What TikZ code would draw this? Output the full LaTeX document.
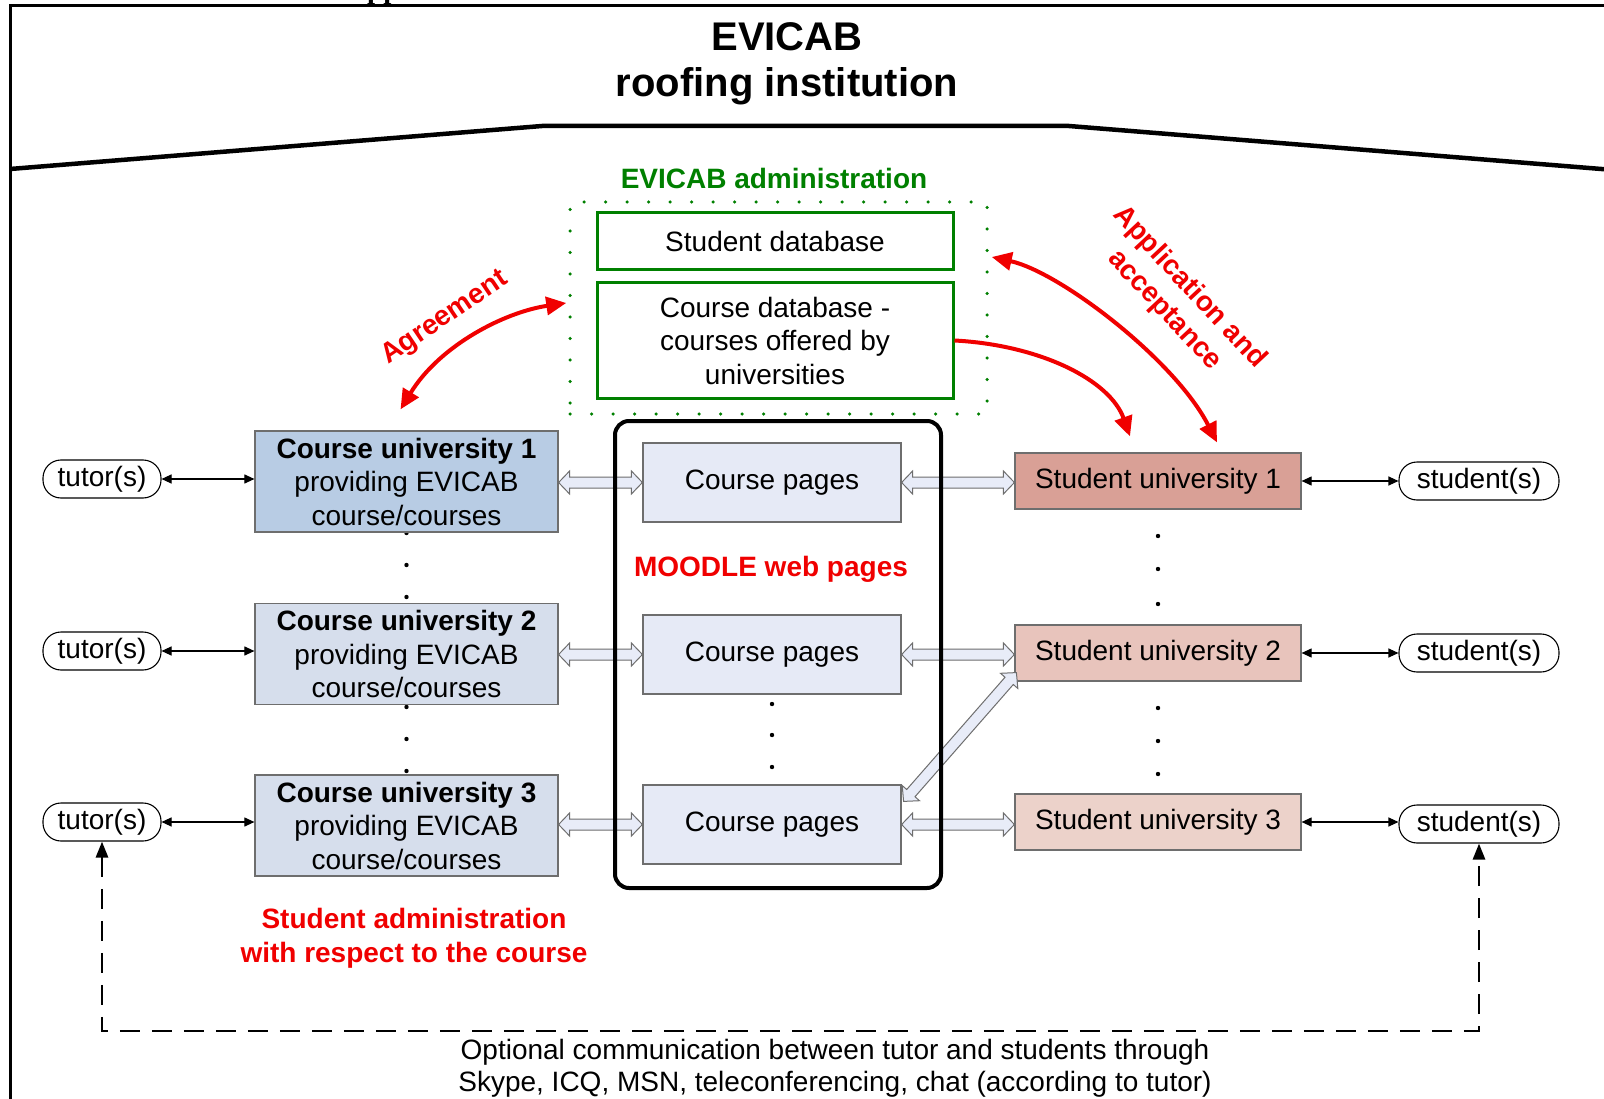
\documentclass[tikz,border=0pt]{standalone}
\usepackage{fontspec}
\setmainfont{Liberation Sans}
\newfontfamily\capserif{Liberation Serif}
\usetikzlibrary{arrows.meta,calc}

\definecolor{adgreen}{RGB}{0,128,0}
\definecolor{hotred}{RGB}{240,0,0}
\definecolor{cuA}{RGB}{184,204,228}
\definecolor{cuB}{RGB}{214,222,236}
\definecolor{cpfill}{RGB}{230,234,246}
\definecolor{suA}{RGB}{217,160,150}
\definecolor{suB}{RGB}{232,196,188}
\definecolor{suC}{RGB}{236,210,202}
\definecolor{boxline}{RGB}{110,110,110}
\definecolor{dblfill}{RGB}{232,236,248}

\tikzset{
  txt/.style={font=\fontsize{28}{33.5}\selectfont},
  titletxt/.style={font=\fontsize{40}{48}\selectfont\bfseries, inner sep=0pt},
  redlbl/.style={text=hotred, font=\fontsize{28}{34}\selectfont\bfseries, align=center, inner sep=0pt},
  cubox/.style={draw=boxline, line width=1.2pt, minimum width=303pt, minimum height=101pt,
                align=center, inner sep=0pt, txt},
  cpbox/.style={draw=boxline, fill=cpfill, line width=1.2pt, minimum width=258pt,
                minimum height=79pt, inner sep=0pt, txt},
  subox/.style={draw=boxline, line width=1.2pt, minimum width=286pt, minimum height=56pt,
                inner sep=0pt, txt},
  dbbox/.style={draw=adgreen, line width=3pt, minimum width=356pt, align=center,
                inner sep=0pt, txt},
  pill/.style={draw, line width=1.1pt, rounded corners=18pt, minimum height=38pt,
               fill=white, inner sep=0pt, txt},
  linkarrow/.style={line width=1.1pt, {Triangle[length=10pt,width=9pt]}-{Triangle[length=10pt,width=9pt]}},
  redboth/.style={draw=hotred, line width=4pt,
                  {Triangle[length=20pt,width=18pt]}-{Triangle[length=20pt,width=18pt]}},
  redone/.style={draw=hotred, line width=4pt, -{Triangle[length=20pt,width=18pt]}},
  dashlink/.style={line width=2.8pt, dash pattern=on 20pt off 12pt,
                   {Triangle[length=16pt,width=12pt]}-{Triangle[length=16pt,width=12pt]}},
  hollowarrow/.style={draw=boxline, fill=dblfill, line width=1pt, line join=miter},
}

% wide hollow two-headed arrow from #1 to #2
\newcommand\hollowlink[2]{%
  \path let \p1=(#1), \p2=(#2) in
    \pgfextra{%
      \pgfmathsetmacro\hlLtmp{veclen(\x2-\x1,\y2-\y1)}%
      \pgfmathsetmacro\hlAtmp{atan2(\y2-\y1,\x2-\x1)}%
      \pgfmathsetmacro\hlXtmp{\x1}%
      \pgfmathsetmacro\hlYtmp{\y1}%
      \global\let\hlL\hlLtmp \global\let\hlA\hlAtmp
      \global\let\hlX\hlXtmp \global\let\hlY\hlYtmp};
  \begin{scope}[shift={(\hlX pt,\hlY pt)}, rotate=\hlA]
    \draw[hollowarrow] (0pt,0pt) -- (11pt,11.5pt) -- (11pt,5.5pt)
      -- (\hlL pt-11pt,5.5pt) -- (\hlL pt-11pt,11.5pt) -- (\hlL pt,0pt)
      -- (\hlL pt-11pt,-11.5pt) -- (\hlL pt-11pt,-5.5pt) -- (11pt,-5.5pt)
      -- (11pt,-11.5pt) -- cycle;
  \end{scope}}

\begin{document}
\begin{tikzpicture}[x=1pt,y=-1pt]
\path[use as bounding box, fill=white] (0,0) rectangle (1604,1099);
\clip (0,0) rectangle (1604,1099);

% caption remnant above the frame
\node[anchor=base west, inner sep=0pt, font=\capserif\bfseries\fontsize{29}{29}\selectfont]
  (capfrag) at (367,-1) {pp};

% outer frame and roof
\draw[line width=3pt] (10,1110) -- (10,6) -- (1620,6);
\draw[line width=4.5pt] (10,169) -- (542,126) -- (1069,126) -- (1620,170.5);

% title
\node[titletxt, anchor=base] (title1) at (787,51) {EVICAB};
\node[titletxt, anchor=base] (title2) at (787,97) {roofing institution};

% EVICAB administration
\node[text=adgreen, font=\fontsize{28}{33.5}\selectfont\bfseries, inner sep=0pt]
  (adminlbl) at (774,178) {EVICAB administration};
\node[draw=adgreen, line width=3.5pt, dash pattern=on 0pt off 21.5pt, line cap=round,
      minimum width=417pt, minimum height=212pt] (admin) at (778.5,308) {};
\node[dbbox, minimum height=57pt] (sdb) at (775,241.5) {Student database};
\node[dbbox, minimum height=115pt] (cdb) at (775,340.5)
  {Course database -\\courses offered by\\universities};

% continuation dots
\foreach \yy in {533,565,597,707,739,771}
  \fill (406.5,\yy) circle (2.2pt);
\foreach \yy in {704,735,767}
  \fill (772,\yy) circle (2.2pt);
\foreach \yy in {536,569,604,708,741,774}
  \fill (1158,\yy) circle (2.2pt);

% course universities
\node[cubox, fill=cuA] (cu1) at (406.5,481.5)
  {\textbf{Course university 1}\\providing EVICAB\\course/courses};
\node[cubox, fill=cuB] (cu2) at (406.5,654)
  {\textbf{Course university 2}\\providing EVICAB\\course/courses};
\node[cubox, fill=cuB] (cu3) at (406.5,825.5)
  {\textbf{Course university 3}\\providing EVICAB\\course/courses};

% course pages
\node[cpbox] (cp1) at (772,482.5) {Course pages};
\node[cpbox] (cp2) at (772,654.5) {Course pages};
\node[cpbox] (cp3) at (772,824.5) {Course pages};
\node[redlbl] (moodlelbl) at (771,569) {MOODLE web pages};

% student universities
\node[subox, fill=suA] (su1) at (1158,481) {Student university 1};
\node[subox, fill=suB] (su2) at (1158,653) {Student university 2};
\node[subox, fill=suC] (su3) at (1158,822) {Student university 3};

% tutors and students
\node[pill, minimum width=118pt] (t1) at (102,479) {tutor(s)};
\node[pill, minimum width=118pt] (t2) at (102,651) {tutor(s)};
\node[pill, minimum width=118pt] (t3) at (102,822) {tutor(s)};
\node[pill, minimum width=160pt] (s1) at (1479,481) {student(s)};
\node[pill, minimum width=160pt] (s2) at (1479,653) {student(s)};
\node[pill, minimum width=160pt] (s3) at (1479,824) {student(s)};

\draw[linkarrow] (t1.east) -- (t1.east -| cu1.west);
\draw[linkarrow] (t2.east) -- (t2.east -| cu2.west);
\draw[linkarrow] (t3.east) -- (t3.east -| cu3.west);
\draw[linkarrow] (su1.east) -- (su1.east -| s1.west);
\draw[linkarrow] (su2.east) -- (su2.east -| s2.west);
\draw[linkarrow] (su3.east) -- (su3.east -| s3.west);

% hollow links through the web pages
\coordinate (h1a) at (cu1.east |- cp1.west);
\coordinate (h2a) at (cu2.east |- cp2.west);
\coordinate (h3a) at (cu3.east |- cp3.west);
\coordinate (h1b) at (cp1.east -| su1.west);
\coordinate (h2b) at (cp2.east -| su2.west);
\coordinate (h3b) at (cp3.east -| su3.west);
\hollowlink{h1a}{cp1.west}
\hollowlink{h2a}{cp2.west}
\hollowlink{h3a}{cp3.west}
\hollowlink{cp1.east}{h1b}
\hollowlink{cp2.east}{h2b}
\hollowlink{cp3.east}{h3b}
\coordinate (dgA) at ($(cp3.north east)+(2,17)$);
\coordinate (dgB) at ($(su2.south west)+(2,-9)$);
\hollowlink{dgA}{dgB}

% MOODLE frame
\node[draw, line width=4pt, rounded corners=14pt, minimum width=326pt,
      minimum height=467pt] (moodle) at (778,654.5) {};

% red relations
\coordinate (agLow) at ($(cu1.north)+(-6,-21)$);
\coordinate (agHigh) at ($(admin.west)+(-2,-5)$);
\draw[redboth] (agLow) .. controls (440,345) and (505,312) .. (agHigh);
\node[redlbl, rotate=34] (agr) at (445,318) {Agreement};

\coordinate (catTip) at ($(su1.north)+(-28,-16)$);
\draw[redone] (cdb.east) .. controls (1040,345) and (1110,380) .. (catTip);

\coordinate (apStart) at ($(admin.east)+(3,-51)$);
\coordinate (apTip) at ($(su1.north)+(59,-10)$);
\draw[redboth] (apStart) .. controls (1060,272) and (1175,360) .. (apTip);
\node[redlbl, rotate=-47] (appl) at (1177,299) {Application and\\acceptance};

\node[redlbl] (sadmin) at (414,938.5) {Student administration\\with respect to the course};

% optional direct communication
\coordinate (dbase) at (0,1031);
\draw[dashlink] (t3.south) -- (t3.south |- dbase) -- (s3.south |- dbase) -- (s3.south);
\node[txt, align=center, font=\fontsize{28}{32}\selectfont, inner sep=0pt] (note) at (835,1068)
  {Optional communication between tutor and students through\\
   Skype, ICQ, MSN, teleconferencing, chat (according to tutor)};
\end{tikzpicture}
\end{document}
